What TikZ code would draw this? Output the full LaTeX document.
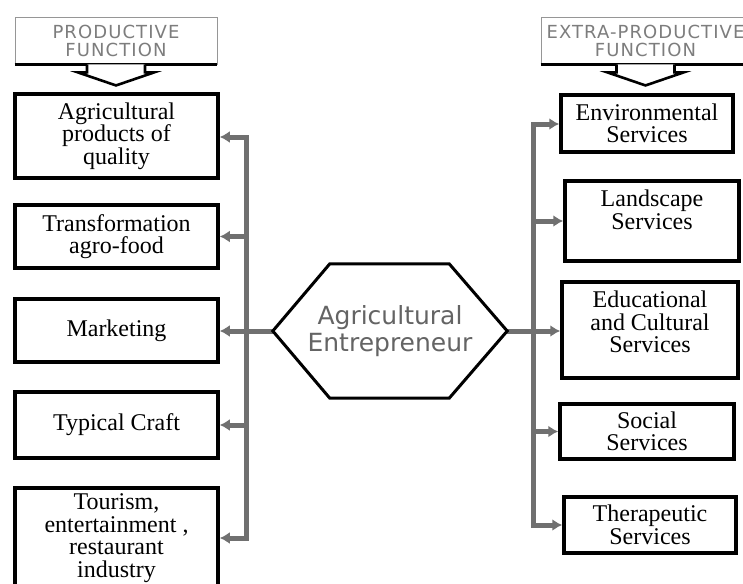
\documentclass[tikz,border=0pt]{standalone}
\usepackage{fontspec}
\setmainfont{Liberation Serif}
\newfontfamily\dejafont{DejaVu Sans}
\newfontfamily\hdrfont[LetterSpace=6]{DejaVu Sans}
\usetikzlibrary{arrows.meta}
\definecolor{conncol}{RGB}{112,112,112}
\definecolor{hextext}{RGB}{100,100,100}
\definecolor{hdrtext}{RGB}{125,125,125}
\definecolor{hdrline}{RGB}{150,150,150}
\begin{document}
\begin{tikzpicture}[x=1pt,y=-1pt,
  box/.style={draw=black, line width=3.5pt, inner sep=0pt, align=center,
    font=\fontsize{24}{22.5}\selectfont},
  hdr/.style={draw=hdrline, line width=0.9pt, inner sep=0pt, align=center,
    text=hdrtext, font=\hdrfont\fontsize{18}{18}\selectfont},
  conn/.style={draw=conncol, line width=5pt, line join=miter,
    -{Latex[length=10pt,width=12pt]}},
  conn2/.style={draw=conncol, line width=5pt, line join=miter,
    {Latex[length=10pt,width=12pt]}-{Latex[length=10pt,width=12pt]}},
  blk/.style={draw=black, line width=2.6pt, line join=miter, fill=white}
]
\useasboundingbox (0,0) rectangle (743,583);
\clip (0,0) rectangle (743,583);
\fill[white] (0,0) rectangle (743,583);

% header boxes
\node[hdr, minimum width=202pt, minimum height=47pt] (pf) at (116,40.5) {PRODUCTIVE\\FUNCTION};
\node[hdr, minimum width=209pt, minimum height=47pt] (epf) at (645.5,40.5) {EXTRA-PRODUCTIVE\\FUNCTION};
\draw[blk] (pf.south west) -- (pf.south east);
\draw[blk] (epf.south west) -- (epf.south east);
\draw[blk] ([xshift=-29pt]pf.south) -- ++(0pt,-8pt) -- ++(-9pt,0pt) -- ([yshift=-21pt]pf.south)
  -- ([xshift=38pt,yshift=-8pt]pf.south) -- ++(-9pt,0pt) -- ([xshift=29pt]pf.south);
\draw[blk] ([xshift=-29pt]epf.south) -- ++(0pt,-8pt) -- ++(-9pt,0pt) -- ([yshift=-21pt]epf.south)
  -- ([xshift=38pt,yshift=-8pt]epf.south) -- ++(-9pt,0pt) -- ([xshift=29pt]epf.south);

% left boxes
\node[box, minimum width=203pt, minimum height=84pt] (b1) at (116.5,136) {Agricultural\\products of\\quality};
\node[box, minimum width=203pt, minimum height=63pt] (b2) at (116.5,236.5) {Transformation\\agro-food};
\node[box, minimum width=203pt, minimum height=63pt] (b3) at (116.5,330.5) {Marketing};
\node[box, minimum width=203pt, minimum height=66pt] (b4) at (116.5,425) {Typical Craft};
\node[box, minimum width=203pt, minimum height=100pt] (b5) at (116.5,538) {Tourism,\\entertainment ,\\restaurant\\industry};

% right boxes
\node[box, minimum width=172pt, minimum height=57pt] (env) at (647,123.5) {Environmental\\Services};
\node[box, minimum width=174pt, minimum height=80pt] (land) at (652,221) {Landscape\\Services\\~};
\node[box, minimum width=176pt, minimum height=96pt] (edu) at (650,330) {Educational\\and Cultural\\Services\\[-6pt]~};
\node[box, minimum width=174pt, minimum height=55pt] (soc) at (647,431.5) {Social\\Services};
\node[box, minimum width=172pt, minimum height=56pt] (ther) at (650,525) {Therapeutic\\Services};

% hexagon (outline drawn through its anchors)
\node[minimum width=234pt, minimum height=134pt, inner sep=0pt] (hex) at (390,331) {};

% bars
\coordinate (lbar) at (246,0);
\coordinate (rbar) at (533,0);

% connectors
\draw[conn2] (b1.east |- 0,137) -- (lbar |- 0,137) -- (lbar |- b5.east) -- (b5.east);
\draw[conn] (lbar |- b2.east) -- (b2.east);
\draw[conn] (hex.west) -- (hex.west -| b3.east);
\draw[conn] (lbar |- b4.east) -- (b4.east);

\draw[conn2] (env.west |- 0,124) -- (rbar |- 0,124) -- (rbar |- ther.west) -- (ther.west);
\draw[conn] (rbar |- land.west) -- (land.west);
\draw[conn] (hex.east) -- (hex.east -| edu.west);
\draw[conn] (rbar |- soc.west) -- (soc.west);

\draw[black, line width=3pt, line join=miter, fill=white]
  (hex.west) -- ([xshift=57pt]hex.north west) -- ([xshift=-58pt]hex.north east)
  -- (hex.east) -- ([xshift=-58pt]hex.south east) -- ([xshift=57pt]hex.south west) -- cycle;
\node[align=center, text=hextext, font=\dejafont\fontsize{25}{27}\selectfont] (hextxt) at (hex.center) {Agricultural\\Entrepreneur};
\end{tikzpicture}
\end{document}
